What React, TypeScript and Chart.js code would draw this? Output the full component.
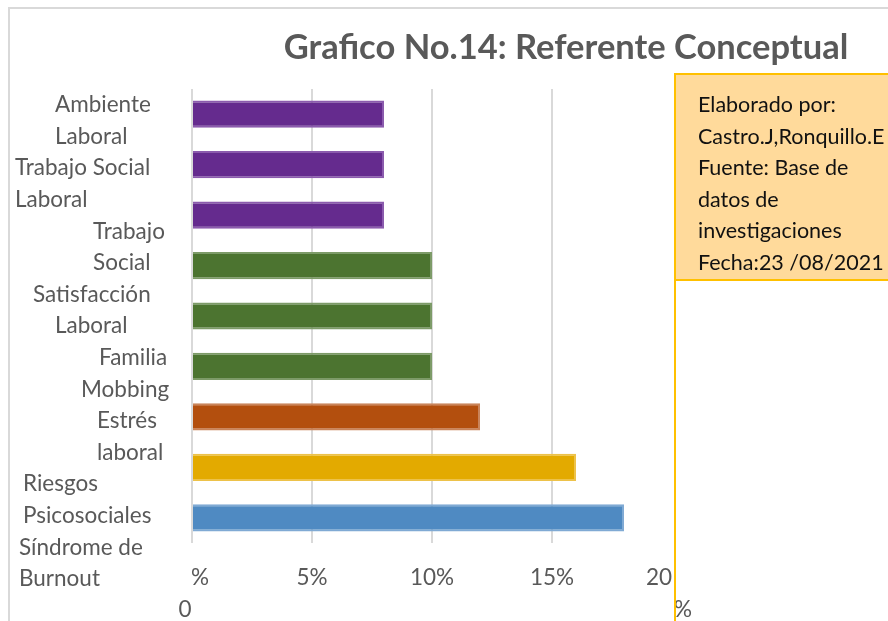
import React, { useEffect, useRef } from "react";
import { Chart, registerables } from "chart.js";

Chart.register(...registerables);

// ---- data ----
const categoryLines: string[][] = [
  ["Ambiente", "Laboral"],
  ["Trabajo Social", "Laboral"],
  ["Trabajo", "Social"],
  ["Satisfacción", "Laboral"],
  ["Familia", "Mobbing"],
  ["Estrés", "laboral"],
  ["Riesgos", "Psicosociales"],
  ["Síndrome de", "Burnout"],
];
// The nine bars (top to bottom)
const categories: string[] = [
  "Ambiente Laboral",
  "Trabajo Social Laboral",
  "Trabajo Social",
  "Satisfacción Laboral",
  "Familia",
  "Mobbing",
  "Estrés laboral",
  "Riesgos Psicosociales",
  "Síndrome de Burnout",
];
const values: number[] = [8, 8, 8, 10, 10, 10, 12, 16, 18];
const xTicks: number[] = [0, 5, 10, 15, 20];
const titleText = "Grafico No.14: Referente Conceptual";
const noteLines: string[] = [
  "Elaborado por:",
  "Castro.J,Ronquillo.E",
  "Fuente: Base de",
  "datos de",
  "investigaciones",
  "Fecha:23 /08/2021",
];

// ---- styles / layout ----
const barColors = ["#652B8E", "#652B8E", "#652B8E", "#4C7430", "#4C7430", "#4C7430", "#B34F0E", "#E3AA00", "#4F8AC2"];
const barBorders = ["#8B5BAD", "#8B5BAD", "#8B5BAD", "#7D9B68", "#7D9B68", "#7D9B68", "#C9845A", "#EDC24A", "#80AAD4"];
const LABEL_LEFT = [55, 55, 15, 15, 93, 93, 33, 55, 99, 81, 97, 97, 23, 23, 19, 19];
const FONT = "Lato, 'Open Sans', sans-serif";
const GRAY_TEXT = "#595959";

const decorPlugin = {
  id: "decor",
  beforeDraw(chart: any) {
    const ctx = chart.ctx;
    ctx.save();
    ctx.fillStyle = "#ffffff";
    ctx.fillRect(0, 0, chart.width, chart.height);
    ctx.strokeStyle = "#d9d9d9";
    ctx.lineWidth = 2;
    ctx.strokeRect(9, 8, chart.width + 20, chart.height + 20);
    ctx.restore();
  },
  afterDraw(chart: any) {
    const ctx = chart.ctx;
    ctx.save();
    // title
    ctx.fillStyle = GRAY_TEXT;
    ctx.font = `bold 34.5px ${FONT}`;
    ctx.textAlign = "center";
    ctx.textBaseline = "middle";
    ctx.fillText(titleText, 566, 48);

    // category labels (wrapped column)
    ctx.font = `22.5px ${FONT}`;
    ctx.textAlign = "left";
    const lines = categoryLines.flat();
    lines.forEach((t, i) => {
      ctx.fillText(t, LABEL_LEFT[i] ?? 20, 105 + i * 31.6);
    });

    // x tick labels
    const xs = chart.scales.x;
    xTicks.forEach((v, i) => {
      const px = xs.getPixelForValue(v);
      const lbl = `${v}%`;
      if (i === 0) {
        ctx.textAlign = "center";
        ctx.fillText("%", px + 8, 578);
        ctx.fillText(String(v), px - 7, 610);
      } else if (i === xTicks.length - 1) {
        ctx.textAlign = "right";
        ctx.fillText(String(v), px, 578);
        ctx.textAlign = "left";
        ctx.fillText("%", px + 2, 610);
      } else {
        ctx.textAlign = "center";
        ctx.fillText(lbl, px, 578);
      }
    });

    // note box
    ctx.fillStyle = "#FFDA9B";
    ctx.fillRect(675, 74, 230, 206);
    ctx.strokeStyle = "#FFC000";
    ctx.lineWidth = 2;
    ctx.beginPath();
    ctx.moveTo(675, 74);
    ctx.lineTo(900, 74);
    ctx.moveTo(675, 280);
    ctx.lineTo(900, 280);
    ctx.moveTo(675, 73);
    ctx.lineTo(675, chart.height + 5);
    ctx.stroke();
    ctx.fillStyle = "#111111";
    ctx.textAlign = "left";
    ctx.font = `21.5px ${FONT}`;
    noteLines.forEach((t, i) => {
      ctx.fillText(t, 698, 105 + i * 31.6);
    });
    ctx.restore();
  },
};

export default function App() {
  const ref = useRef<HTMLCanvasElement | null>(null);
  useEffect(() => {
    if (!ref.current) return;
    const chart = new Chart(ref.current, {
      type: "bar",
      data: {
        labels: categories,
        datasets: [
          {
            data: values,
            backgroundColor: barColors,
            borderColor: barBorders,
            borderWidth: 2,
            barPercentage: 0.54,
            categoryPercentage: 1,
          },
        ],
      },
      options: {
        indexAxis: "y",
        responsive: false,
        animation: false,
        devicePixelRatio: 1,
        layout: { padding: { left: 192, right: 216, top: 89, bottom: 78 } },
        plugins: { legend: { display: false }, tooltip: { enabled: false }, title: { display: false } },
        scales: {
          x: {
            min: 0,
            max: 20,
            ticks: { stepSize: 5, display: false },
            grid: {
              color: (c: any) => (c.tick && c.tick.value === 20 ? "rgba(0,0,0,0)" : "#d9d9d9"),
              lineWidth: 2,
              drawTicks: false,
            },
            border: { display: false },
            afterFit: (s: any) => {
              s.height = 0;
            },
          },
          y: {
            ticks: { display: false },
            grid: { display: false },
            border: { display: false },
            afterFit: (s: any) => {
              s.width = 0;
            },
          },
        },
      } as any,
      plugins: [decorPlugin],
    });
    return () => chart.destroy();
  }, []);
  return (
    <div style={{ position: "absolute", left: 0, top: 0, width: 888, height: 621, overflow: "hidden" }}>
      <canvas ref={ref} width={888} height={621} style={{ display: "block", width: 888, height: 621 }} />
    </div>
  );
}
